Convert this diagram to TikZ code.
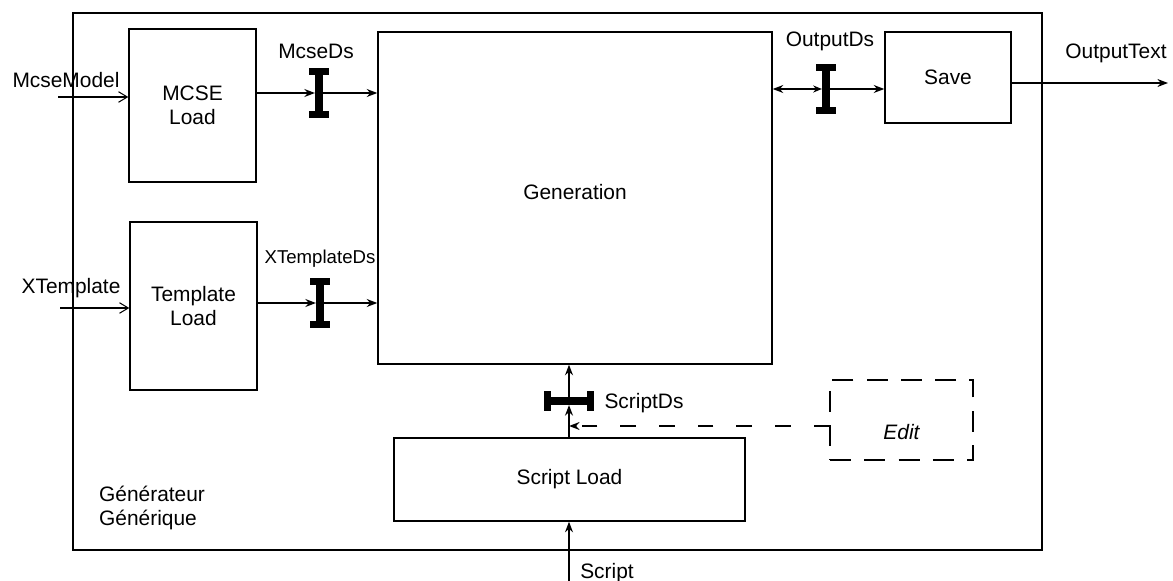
\documentclass[tikz,border=0pt]{standalone}
\usepackage{fontspec}
\setmainfont{Liberation Sans}
\usetikzlibrary{arrows.meta}

\tikzset{
  every node/.style={font=\fontsize{11.9pt}{14pt}\selectfont},
  box/.style={draw, line width=0.8pt, align=center, inner sep=0pt},
  flow/.style={line width=1.2pt, -{Stealth[length=6pt,width=4.5pt]}},
  dflow/.style={line width=1.2pt, {Stealth[length=6pt,width=4.5pt]}-{Stealth[length=5pt,width=4pt]}},
  inflow/.style={line width=0.6pt, -{Straight Barb[length=5pt,width=6pt]}},
  ibeam/.pic={
    \fill (-4,-25) rectangle (4,25);
    \fill (-10,-25) rectangle (10,-18);
    \fill (-10,18) rectangle (10,25);
  }
}

\begin{document}
\begin{tikzpicture}[x=0.02cm, y=-0.02cm]
    \useasboundingbox[fill=white] (0,0) rectangle (1173,581);

    % Frame of the generator
    \node[box, minimum width=19.38cm, minimum height=10.74cm] (frame) at (557.5,281.5) {};
    \node[anchor=west, align=left] (gentxt) at (93,508) {Générateur\\Générique};

    % Blocks
    \node[box, minimum width=2.54cm, minimum height=3.06cm] (mcse) at (192.5,105.5) {MCSE\\Load};
    \node[box, minimum width=2.54cm, minimum height=3.36cm] (tmpl) at (193.5,306) {Template\\Load};
    \node[box, minimum width=7.88cm, minimum height=6.64cm] (gen) at (575,198) {\raisebox{0.12cm}[\height][\depth]{Generation}};
    \node[box, minimum width=2.52cm, minimum height=1.82cm] (save) at (948,77.5) {Save};
    \node[box, minimum width=7.02cm, minimum height=1.66cm] (sload) at (569.5,479.5) {Script Load};
    \node[box, dash pattern=on 12pt off 7.5pt, minimum width=2.86cm, minimum height=1.6cm] (edit) at (901.5,420) {\raisebox{-0.24cm}[\height][\depth]{\itshape Edit}};

    % Inputs
    \coordinate (inmcse) at (58,97);
    \node (lmcse) at (66,80) {McseModel};
    \draw[inflow] (inmcse) -- (mcse.west |- inmcse);
    \coordinate (intmpl) at (60,308);
    \node (ltmpl) at (71,288) {XTemplate};
    \draw[inflow] (intmpl) -- (tmpl.west |- intmpl);
    \coordinate (inscript) at (569,581);
    \node (lscript) at (607,573) {Script};
    \draw[flow] (inscript) -- (sload.south -| inscript);

    % Data stores
    \coordinate (bmcse) at (319,93);
    \node (lbmcse) at (316,51) {McseDs};
    \draw[flow, shorten >=2.3pt] (mcse.east |- bmcse) -- (bmcse);
    \draw[flow] (bmcse) -- (gen.west |- bmcse);
    \pic at (bmcse) {ibeam};

    \coordinate (btmpl) at (320,303);
    \node[font=\fontsize{10.6pt}{12pt}\selectfont] (lbtmpl) at (320,259) {XTemplateDs};
    \draw[flow, shorten >=2.3pt] (tmpl.east |- btmpl) -- (btmpl);
    \draw[flow] (btmpl) -- (gen.west |- btmpl);
    \pic at (btmpl) {ibeam};

    \coordinate (bout) at (826,89);
    \node (lbout) at (830,41) {OutputDs};
    \draw[dflow, shorten >=2.3pt] (gen.east |- bout) -- (bout);
    \draw[flow] (bout) -- (save.west |- bout);
    \pic at (bout) {ibeam};

    \coordinate (bscript) at (569,401);
    \node (lbscript) at (644,403) {ScriptDs};
    \draw[flow, shorten >=2.3pt] (sload.north -| bscript) -- (bscript);
    \draw[flow] (bscript) -- (gen.south -| bscript);
    \pic[rotate=90] at (bscript) {ibeam};

    % Edit link
    \coordinate (dedit) at (569,426);
    \draw[flow, dash pattern=on 9pt off 13pt] (edit.west |- dedit) -- (dedit);

    % Output
    \coordinate (outtxt) at (1168,83);
    \node (louttxt) at (1116,53) {OutputText};
    \draw[flow] (save.east |- outtxt) -- (outtxt);
\end{tikzpicture}
\end{document}
